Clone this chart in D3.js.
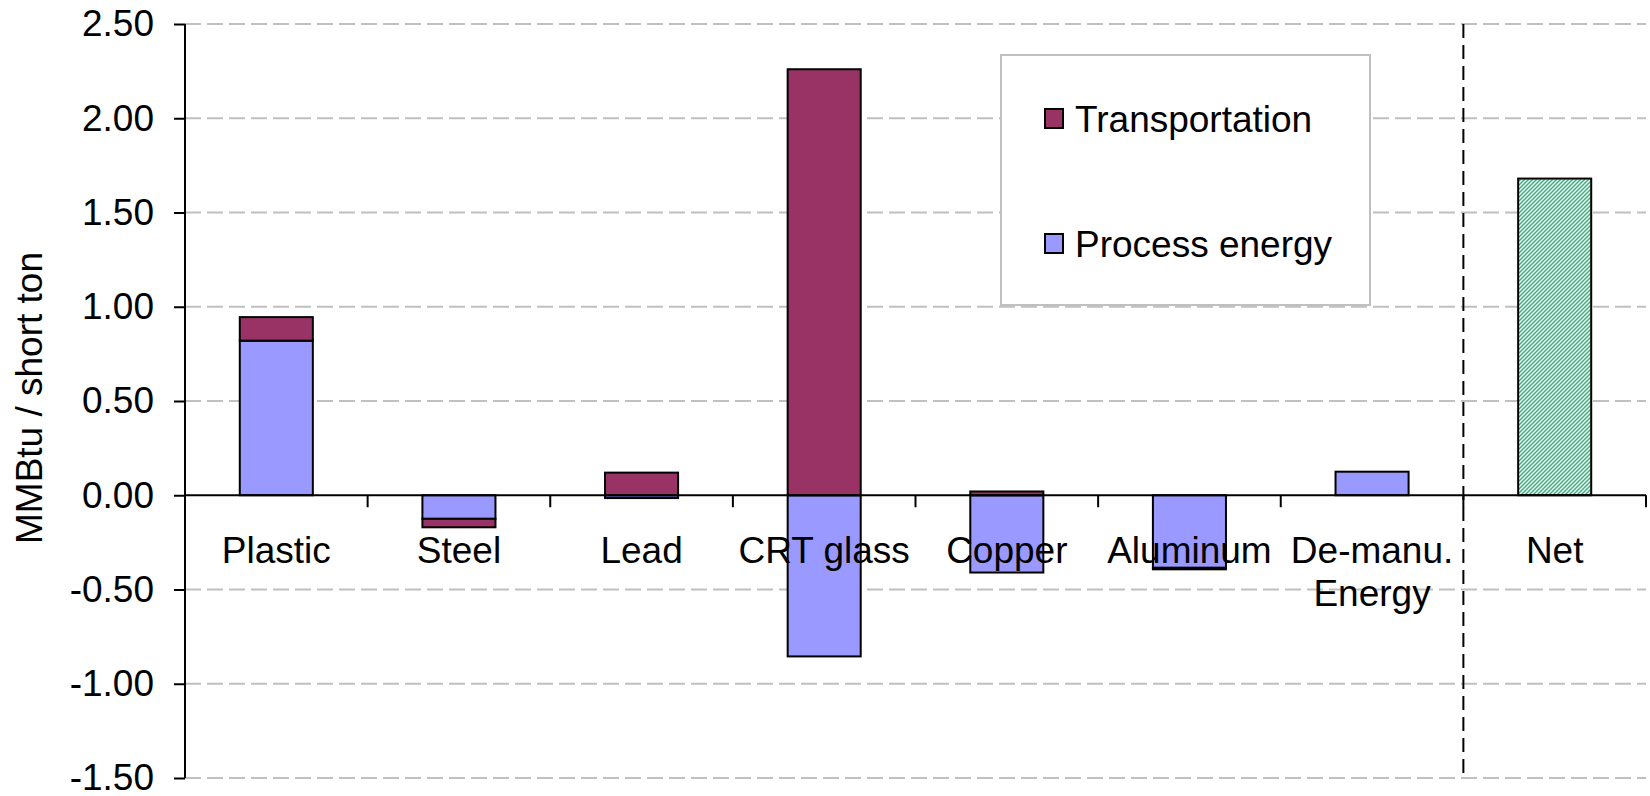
<!DOCTYPE html>
<html>
<head>
<meta charset="utf-8">
<script src="https://cdn.jsdelivr.net/npm/d3@7"></script>
<style>
  html, body { margin: 0; padding: 0; background: #fff; }
  svg { display: block; }
  text { font-family: "Liberation Sans", Arial, sans-serif; fill: #000; }
</style>
</head>
<body>
<svg id="chart" width="1650" height="796"></svg>
<script>
// ---- data ----
const categories = ["Plastic", "Steel", "Lead", "CRT glass", "Copper", "Aluminum", "De-manu.\nEnergy", "Net"];
const processEnergy = [0.82, -0.125, -0.015, -0.855, -0.41, -0.385, 0.125, 0];
const transportation = [0.125, -0.045, 0.12, 2.26, 0.02, -0.008, 0, 0];
const netValues = [0, 0, 0, 0, 0, 0, 0, 1.68];
const yTickValues = [-1.5, -1.0, -0.5, 0, 0.5, 1.0, 1.5, 2.0, 2.5];
const seriesNames = ["Process energy", "Transportation"];
const legendNames = ["Transportation", "Process energy"];
const yAxisTitle = "MMBtu / short ton";

// ---- layout ----
const plotLeft = 185, plotRight = 1646, plotTop = 24, plotBottom = 778;
const colors = { "Transportation": "#993366", "Process energy": "#9999FF" };

const svg = d3.select("#chart");

const defs = svg.append("defs");
const pat = defs.append("pattern")
  .attr("id", "hatch").attr("patternUnits", "userSpaceOnUse")
  .attr("width", 4).attr("height", 4);
pat.append("rect").attr("width", 4).attr("height", 4).attr("fill", "#ffffff");
pat.append("path").attr("d", "M-1,1 l2,-2 M0,4 l4,-4 M3,5 l2,-2")
  .attr("stroke", "#3aae7c").attr("stroke-width", 1.5);

const x = d3.scaleBand().domain(categories).range([plotLeft, plotRight])
  .paddingInner(0.6).paddingOuter(0.3);
const y = d3.scaleLinear().domain([-1.5, 2.5]).range([plotBottom, plotTop]);

// gridlines
svg.append("g").selectAll("line")
  .data(yTickValues.filter(v => v !== 0))
  .join("line")
  .attr("x1", plotLeft).attr("x2", plotRight)
  .attr("y1", d => y(d)).attr("y2", d => y(d))
  .attr("stroke", "#c0c0c0").attr("stroke-width", 2)
  .attr("stroke-dasharray", "16,6");

// stacked bars
const table = categories.map((c, i) => ({
  cat: c,
  "Process energy": processEnergy[i],
  "Transportation": transportation[i]
}));
const stacked = d3.stack().keys(seriesNames).offset(d3.stackOffsetDiverging)(table);

const gBars = svg.append("g");
stacked.forEach(s => {
  gBars.append("g")
    .attr("fill", colors[s.key])
    .selectAll("rect")
    .data(s.filter(d => d[1] - d[0] !== 0))
    .join("rect")
    .attr("x", d => x(d.data.cat))
    .attr("width", x.bandwidth())
    .attr("y", d => y(Math.max(d[0], d[1])))
    .attr("height", d => Math.abs(y(d[0]) - y(d[1])))
    .attr("stroke", "#000").attr("stroke-width", 2);
});

// net bar
gBars.append("g").selectAll("rect")
  .data(categories.map((c, i) => ({ cat: c, v: netValues[i] })).filter(d => d.v !== 0))
  .join("rect")
  .attr("x", d => x(d.cat))
  .attr("width", x.bandwidth())
  .attr("y", d => y(Math.max(0, d.v)))
  .attr("height", d => Math.abs(y(d.v) - y(0)))
  .attr("fill", "url(#hatch)")
  .attr("stroke", "#000").attr("stroke-width", 2);

// y axis
const fmt = d3.format(".2f");
const yAxis = d3.axisLeft(y).tickValues(yTickValues)
  .tickFormat(d => fmt(d).replace("\u2212", "-")).tickSize(11).tickPadding(20);
const gy = svg.append("g").attr("transform", `translate(${plotLeft},0)`).call(yAxis);
gy.select(".domain").attr("stroke", "#000").attr("stroke-width", 2)
  .attr("d", `M0,${plotTop}V${plotBottom}`);
gy.selectAll(".tick line").attr("stroke", "#000").attr("stroke-width", 2);
gy.selectAll(".tick text").attr("font-size", 37)
  .attr("font-family", '"Liberation Sans", Arial, sans-serif').attr("fill", "#000");

// x axis line at zero
svg.append("line")
  .attr("x1", plotLeft).attr("x2", plotRight)
  .attr("y1", y(0)).attr("y2", y(0))
  .attr("stroke", "#000").attr("stroke-width", 2);

// x ticks at category boundaries
const boundaries = d3.range(categories.length + 1).map(i => plotLeft + i * x.step());
svg.append("g").selectAll("line")
  .data(boundaries.slice(1))
  .join("line")
  .attr("x1", d => d).attr("x2", d => d)
  .attr("y1", y(0)).attr("y2", y(0) + 12)
  .attr("stroke", "#000").attr("stroke-width", 2);

// dashed separator before "Net"
const sepX = boundaries[categories.length - 1];
svg.append("line")
  .attr("x1", sepX).attr("x2", sepX)
  .attr("y1", plotTop).attr("y2", plotBottom)
  .attr("stroke", "#000").attr("stroke-width", 2)
  .attr("stroke-dasharray", "14,7");

// category labels
const gLab = svg.append("g");
categories.forEach(c => {
  const lines = c.split("\n");
  const t = gLab.append("text")
    .attr("text-anchor", "middle")
    .attr("font-size", 37)
    .attr("x", x(c) + x.bandwidth() / 2)
    .attr("y", 563);
  lines.forEach((ln, i) => {
    t.append("tspan").attr("x", x(c) + x.bandwidth() / 2)
      .attr("dy", i === 0 ? 0 : 42.5).text(ln);
  });
});

// y axis title
svg.append("text")
  .attr("transform", `translate(42,398) rotate(-90)`)
  .attr("text-anchor", "middle")
  .attr("font-size", 37)
  .text(yAxisTitle);

// legend
const lg = svg.append("g");
lg.append("rect").attr("x", 1001).attr("y", 55).attr("width", 369).attr("height", 250)
  .attr("fill", "#fff").attr("stroke", "#c0c0c0").attr("stroke-width", 2);
legendNames.forEach((n, i) => {
  const cy = 118.5 + i * 125;
  lg.append("rect").attr("x", 1045).attr("y", cy - 9.5).attr("width", 18).attr("height", 19)
    .attr("fill", colors[n]).attr("stroke", "#000").attr("stroke-width", 2);
  lg.append("text").attr("x", 1075).attr("y", cy + 13)
    .attr("font-size", 37).text(n);
});
</script>
</body>
</html>
